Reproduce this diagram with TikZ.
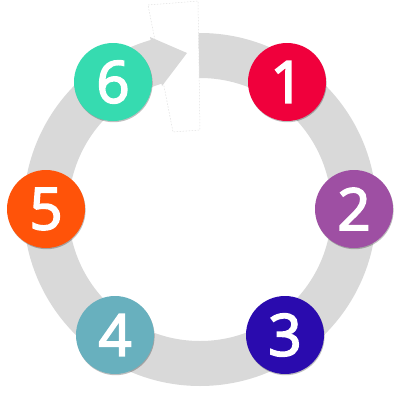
\documentclass[tikz,border=0pt]{standalone}
\usepackage{fontspec}
\setmainfont{Open Sans}
\newfontfamily\numfont{Open Sans}[BoldFont={Open Sans}, BoldFeatures={FakeBold=3}]
\usetikzlibrary{shadows}
\definecolor{ringgray}{HTML}{D9D9D9}
\definecolor{cA}{HTML}{F0003C}
\definecolor{cB}{HTML}{9E4FA3}
\definecolor{cC}{HTML}{2A0BAE}
\definecolor{cD}{HTML}{68B0BE}
\definecolor{cE}{HTML}{FF5309}
\definecolor{cF}{HTML}{36DBB0}
\tikzset{
  numcirc/.style={circle, minimum size=78pt, inner sep=0pt, text=white,
    font=\numfont\bfseries\fontsize{58}{58}\selectfont,
    drop shadow={shadow xshift=0.6pt, shadow yshift=-1.2pt, opacity=0.25, fill=black}},
  maskbox/.style={fill=white, draw=black!12, line width=0.5pt, dash pattern=on 1.5pt off 1.5pt},
}
\begin{document}
\begin{tikzpicture}[x=1pt,y=-1pt]
\useasboundingbox (0,0) rectangle (400,400);
% ring
\fill[ringgray, even odd rule] (200,209.5) circle[radius=176.5pt] (200,209.5) circle[radius=131.5pt];
% white gap mask
\path[maskbox] (148,5) -- (198,1) -- (200,130) -- (173,132) -- cycle;
% arrow head
\fill[ringgray] (150,37) -- (187,53) -- (162,86) -- cycle;
% numbered circles
\node[numcirc, fill=cA] (n1) at (287,82) {1};
\node[numcirc, fill=cB] (n2) at (354,209) {2};
\node[numcirc, fill=cC] (n3) at (285,335) {3};
\node[numcirc, fill=cD] (n4) at (115,335) {4};
\node[numcirc, fill=cE] (n5) at (46,209) {5};
\node[numcirc, fill=cF] (n6) at (113,82) {6};
\end{tikzpicture}
\end{document}
